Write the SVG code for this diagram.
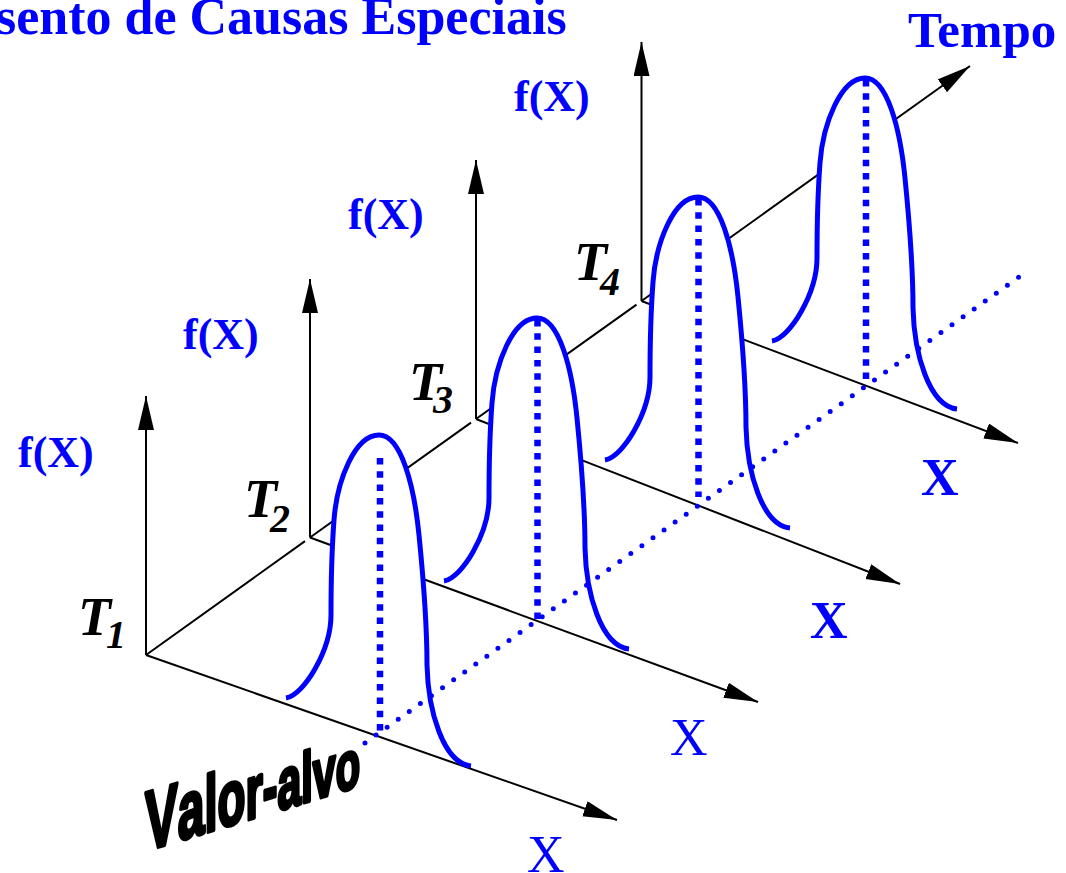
<svg xmlns="http://www.w3.org/2000/svg" xmlns:xlink="http://www.w3.org/1999/xlink" width="1066" height="873" viewBox="0 0 1066 873">
<style>
.ax{stroke:#000;stroke-width:2;fill:none}
.bell{fill:#fff;stroke:#00f;stroke-width:5}
.mean{stroke:#00f;stroke-width:6.5;stroke-dasharray:6.5 6.8;fill:none}
.target{stroke:#00f;stroke-width:5;stroke-linecap:round;stroke-dasharray:0 13.6;fill:none}
.lbl{font-family:"Liberation Serif","Times New Roman",serif;font-weight:bold;fill:#00f}
.lblr{font-family:"Liberation Serif","Times New Roman",serif;font-weight:normal;fill:#00f}
.tl{font-family:"Liberation Serif","Times New Roman",serif;font-weight:bold;font-style:italic;fill:#000}
</style>
<defs>
<marker id="arr" markerUnits="userSpaceOnUse" markerWidth="36" markerHeight="18" refX="34" refY="8" orient="auto">
<path d="M0,0 L34,8 L0,16 Z" fill="#000"/>
</marker>
<path id="bell" d="M -93,263 C -75,260 -48,215 -48,180 C -48,150 -47.25,115 -45,85 C -42,45 -24,0 0,0 C 22,0 35,50 40,100 C 43,130 48,190 48,230 C 49,275 64,328 92,331"/>
</defs>

<text class="lbl" x="-4" y="34" font-size="52">sento de Causas Especiais</text>
<text class="lbl" x="908" y="47" font-size="51">Tempo</text>

<g id="axes">
<path class="ax" d="M146,655 L305,541.1 M310,537.5 L471,422.6 M476,419 L636.5,304.6"/>
<line class="ax" x1="641.5" y1="301" x2="970" y2="66" marker-end="url(#arr)"/>
<line class="ax" x1="146" y1="655" x2="146" y2="396" marker-end="url(#arr)"/>
<line class="ax" x1="310" y1="537.5" x2="310" y2="279" marker-end="url(#arr)"/>
<line class="ax" x1="476" y1="419" x2="476" y2="160" marker-end="url(#arr)"/>
<line class="ax" x1="641.5" y1="301" x2="641.5" y2="42" marker-end="url(#arr)"/>
<line class="ax" x1="146" y1="655" x2="617" y2="820" marker-end="url(#arr)"/>
<line class="ax" x1="310" y1="537.5" x2="758" y2="702" marker-end="url(#arr)"/>
<line class="ax" x1="476" y1="419" x2="900" y2="584" marker-end="url(#arr)"/>
<line class="ax" x1="641.5" y1="301" x2="1018" y2="443" marker-end="url(#arr)"/>
</g>

<g id="slice-t1">
<use xlink:href="#bell" href="#bell" class="bell" x="379" y="435"/>
<line class="mean" x1="380" y1="458" x2="380" y2="731"/>
<text class="lbl" x="18" y="467" font-size="44">f(X)</text>
<text class="tl" x="78" y="635" font-size="54">T<tspan x="106" y="648" font-size="40">1</tspan></text>
<text class="lblr" x="527" y="872" font-size="52">X</text>
</g>

<g id="slice-t2">
<use xlink:href="#bell" href="#bell" class="bell" x="537" y="318"/>
<line class="mean" x1="537.5" y1="320" x2="537.5" y2="619"/>
<text class="lbl" x="183" y="349" font-size="44">f(X)</text>
<text class="tl" x="244" y="517" font-size="54">T<tspan x="270" y="532" font-size="40">2</tspan></text>
<text class="lblr" x="670" y="755" font-size="52">X</text>
</g>

<g id="slice-t3">
<use xlink:href="#bell" href="#bell" class="bell" x="698" y="197"/>
<line class="mean" x1="698.5" y1="199" x2="698.5" y2="497"/>
<text class="lbl" x="348" y="229" font-size="44">f(X)</text>
<text class="tl" x="409" y="400" font-size="54">T<tspan x="433" y="413" font-size="40">3</tspan></text>
<text class="lbl" x="810" y="638" font-size="52">X</text>
</g>

<g id="slice-t4">
<use xlink:href="#bell" href="#bell" class="bell" x="865" y="78"/>
<line class="mean" x1="866" y1="80" x2="866" y2="380"/>
<text class="lbl" x="514" y="111" font-size="44">f(X)</text>
<text class="tl" x="574" y="280" font-size="54">T<tspan x="600" y="295" font-size="40">4</tspan></text>
<text class="lbl" x="921" y="495" font-size="52">X</text>
</g>

<g id="target">
<line class="target" x1="365" y1="743" x2="1019" y2="277"/>
<g transform="translate(145,851) skewY(-16.9) scale(0.586,1)">
<text font-family="'Liberation Sans',Arial,sans-serif" font-weight="bold" fill="#000" stroke="#000" stroke-width="4" stroke-linejoin="round" x="0" y="0"><tspan font-size="84">V</tspan><tspan font-size="82">a</tspan><tspan font-size="80">l</tspan><tspan font-size="78">o</tspan><tspan font-size="76">r</tspan><tspan font-size="75">-</tspan><tspan font-size="73">a</tspan><tspan font-size="71">l</tspan><tspan font-size="70">v</tspan><tspan font-size="68">o</tspan></text>
</g>
</g>
</svg>
